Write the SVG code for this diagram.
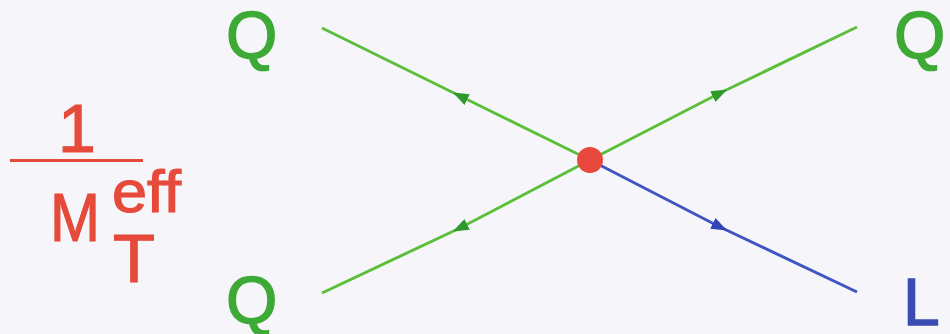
<svg xmlns="http://www.w3.org/2000/svg" width="950" height="334" viewBox="0 0 950 334">
<style>
.lbl{font-family:"Liberation Sans",Arial,sans-serif;font-size:66px;stroke-width:1.4px}
.g{fill:#3daa35;stroke:#3daa35}
.b{fill:#3a4db3;stroke:#3a4db3}
.r{fill:#e64a3a;stroke:#e64a3a;stroke-width:1.2px;font-family:"Liberation Sans",Arial,sans-serif}
.gl{stroke:#5cbf3c;stroke-width:3;fill:none}
.bl{stroke:#3f55c0;stroke-width:3;fill:none}
</style>
<defs>
<marker id="ag" viewBox="0 0 16 12" refX="8" refY="6" markerWidth="16" markerHeight="12" markerUnits="userSpaceOnUse" orient="auto"><path d="M0,0 L16,6 L0,12 z" fill="#2f9a2c"/></marker>
<marker id="ab" viewBox="0 0 16 12" refX="8" refY="6" markerWidth="16" markerHeight="12" markerUnits="userSpaceOnUse" orient="auto"><path d="M0,0 L16,6 L0,12 z" fill="#2f45b5"/></marker>
</defs>
<rect width="950" height="334" fill="#f6f6fa"/>
<g id="connectors">
<path class="gl" d="M590,160 L460,96 L322,28" marker-mid="url(#ag)"/>
<path class="gl" d="M590,160 L720,93 L857,27" marker-mid="url(#ag)"/>
<path class="gl" d="M590,160 L460,228 L322,293" marker-mid="url(#ag)"/>
<path class="bl" d="M590,160 L720,227 L857,292" marker-mid="url(#ab)"/>
</g>
<g id="vertex"><circle cx="590" cy="160" r="13" fill="#e8473b"/></g>
<g id="q-top-left"><text class="lbl g" x="226" y="58">Q</text></g>
<g id="q-top-right"><text class="lbl g" x="894" y="58">Q</text></g>
<g id="q-bottom-left"><text class="lbl g" x="226" y="323">Q</text></g>
<g id="l-bottom-right"><text class="lbl b" x="903" y="325">L</text></g>
<g id="coupling">
<text class="r" x="58" y="152" font-size="68">1</text>
<rect x="10" y="159" width="133" height="3" fill="#e64a3a"/>
<text class="r" x="50" y="241" font-size="68" textLength="50" lengthAdjust="spacingAndGlyphs">M</text>
<text class="r" x="112" y="212" font-size="60" textLength="69" lengthAdjust="spacingAndGlyphs">eff</text>
<text class="r" x="113" y="282" font-size="68" textLength="42" lengthAdjust="spacingAndGlyphs">T</text>
</g>
</svg>
